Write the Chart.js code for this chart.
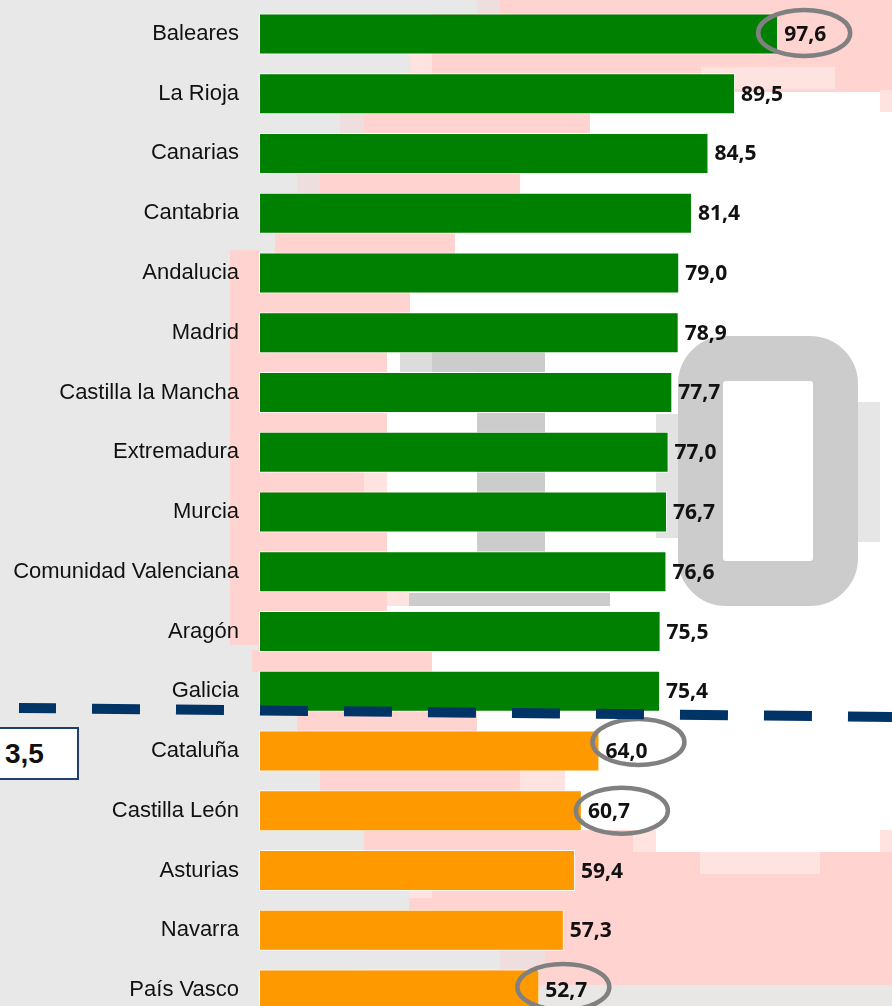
<!DOCTYPE html>
<html>
<head>
<meta charset="utf-8">
<script src="https://cdn.jsdelivr.net/npm/chart.js@4.4.1/dist/chart.umd.min.js"></script>
<style>
  html, body { margin: 0; padding: 0; background: #e8e8e8; overflow: hidden; }
  #wrap { position: relative; width: 892px; height: 1006px; overflow: hidden; background: #e8e8e8; }
  .bg { position: absolute; }
  .pk { background: #ffd3d0; }
  .lp { background: #ffe3e0; }
  .wh { background: #ffffff; }
  .gr { background: #cccccc; }
  .lg { background: #dcdcdc; }
  .bs { background: #e8e8e8; }
  .lgp { background: #eedfde; }
  #zero { position: absolute; left: 678px; top: 336px; width: 180px; height: 270px; box-sizing: border-box;
          border: 45px solid #cccccc; border-radius: 48px; background: #ffffff; }
  #box { position: absolute; left: -2px; top: 727px; width: 81px; height: 53px; box-sizing: border-box;
         background: #ffffff; border: 2px solid #1f3f6e; font: bold 28px "Liberation Sans", Arial, sans-serif;
         color: #111; line-height: 49px; padding-left: 5px; }
  canvas { position: absolute; left: 0; top: 0; }
</style>
</head>
<body>
<div id="wrap">
  <!-- decorative backdrop -->
  <div class="bg lgp" style="left:477px;top:0;width:23px;height:14px"></div>
  <div class="bg pk" style="left:500px;top:0;width:392px;height:14px"></div>
  <div class="bg pk" style="left:432px;top:14px;width:460px;height:78px"></div>
  <div class="bg lp" style="left:410px;top:54px;width:22px;height:20px"></div>
  <div class="bg lp" style="left:701px;top:67px;width:134px;height:22px"></div>
  <div class="bg wh" style="left:259px;top:92px;width:633px;height:745px"></div>
  <div class="bg lp" style="left:880px;top:90px;width:12px;height:22px"></div>
  <div class="bg bs" style="left:259px;top:112px;width:81px;height:22px"></div>
  <div class="bg lgp" style="left:340px;top:112px;width:24px;height:22px"></div>
  <div class="bg pk" style="left:364px;top:112px;width:226px;height:22px"></div>
  <div class="bg bs" style="left:259px;top:172px;width:38px;height:22px"></div>
  <div class="bg lgp" style="left:297px;top:172px;width:23px;height:22px"></div>
  <div class="bg pk" style="left:320px;top:172px;width:200px;height:22px"></div>
  <div class="bg bs" style="left:259px;top:232px;width:16px;height:22px"></div>
  <div class="bg pk" style="left:275px;top:232px;width:180px;height:22px"></div>
  <div class="bg pk" style="left:230px;top:250px;width:29px;height:395px"></div>
  <div class="bg pk" style="left:252px;top:292px;width:158px;height:22px"></div>
  <div class="bg pk" style="left:259px;top:352px;width:128px;height:22px"></div>
  <div class="bg lg" style="left:400px;top:352px;width:32px;height:20px"></div>
  <div class="bg gr" style="left:432px;top:352px;width:113px;height:20px"></div>
  <div class="bg pk" style="left:259px;top:412px;width:128px;height:22px"></div>
  <div class="bg gr" style="left:477px;top:372px;width:68px;height:180px"></div>
  <div class="bg pk" style="left:259px;top:472px;width:105px;height:22px"></div>
  <div class="bg lp" style="left:364px;top:472px;width:23px;height:22px"></div>
  <div class="bg pk" style="left:259px;top:532px;width:128px;height:22px"></div>
  <div class="bg pk" style="left:259px;top:592px;width:128px;height:22px"></div>
  <div class="bg lp" style="left:387px;top:592px;width:22px;height:14px"></div>
  <div class="bg gr" style="left:409px;top:593px;width:201px;height:13px"></div>
  <div class="bg" style="left:656px;top:414px;width:22px;height:124px;background:#e2e2e2"></div>
  <div class="bg" style="left:858px;top:402px;width:22px;height:140px;background:#e6e6e6"></div>
  <div id="zero"></div>
  <div class="bg pk" style="left:252px;top:650px;width:180px;height:22px"></div>
  <div class="bg bs" style="left:259px;top:710px;width:38px;height:22px"></div>
  <div class="bg pk" style="left:297px;top:710px;width:180px;height:22px"></div>
  <div class="bg bs" style="left:259px;top:770px;width:61px;height:22px"></div>
  <div class="bg pk" style="left:320px;top:770px;width:200px;height:22px"></div>
  <div class="bg lp" style="left:520px;top:770px;width:45px;height:22px"></div>
  <div class="bg pk" style="left:364px;top:830px;width:528px;height:160px"></div>
  <div class="bg bs" style="left:259px;top:830px;width:105px;height:22px"></div>
  <div class="bg lp" style="left:633px;top:830px;width:23px;height:22px"></div>
  <div class="bg wh" style="left:656px;top:830px;width:224px;height:22px"></div>
  <div class="bg lp" style="left:880px;top:830px;width:12px;height:22px"></div>
  <div class="bg lp" style="left:700px;top:852px;width:120px;height:22px"></div>
  <div class="bg bs" style="left:259px;top:890px;width:150px;height:22px"></div>
  <div class="bg lp" style="left:409px;top:890px;width:23px;height:8px"></div>
  <div class="bg bs" style="left:259px;top:950px;width:241px;height:20px"></div>
  <div class="bg lgp" style="left:500px;top:950px;width:45px;height:20px"></div>
  <div class="bg" style="left:540px;top:985px;width:352px;height:21px;background:#e9e6e6"></div>
  <div id="box">3,5</div>
  <canvas id="c" width="892" height="1024"></canvas>
</div>
<script>
// ---- data ----
const regiones = ['Baleares', 'La Rioja', 'Canarias', 'Cantabria', 'Andalucia', 'Madrid',
  'Castilla la Mancha', 'Extremadura', 'Murcia', 'Comunidad Valenciana', 'Aragón', 'Galicia',
  'Cataluña', 'Castilla León', 'Asturias', 'Navarra', 'País Vasco'];
const valores = [97.6, 89.5, 84.5, 81.4, 79.0, 78.9, 77.7, 77.0, 76.7, 76.6, 75.5, 75.4,
  64.0, 60.7, 59.4, 57.3, 52.7];
const grupo = ['alto', 'alto', 'alto', 'alto', 'alto', 'alto', 'alto', 'alto', 'alto', 'alto', 'alto', 'alto',
  'bajo', 'bajo', 'bajo', 'bajo', 'bajo'];
const destacados = ['Baleares', 'Cataluña', 'Castilla León', 'País Vasco'];

// ---- styles ----
const colores = { alto: '#008000', bajo: '#ff9900' };
const ejeMax = 119;
const elipse = { // offsets of highlight ellipse relative to bar end / centre
  'Baleares': [26, -1], 'Cataluña': [39, -9], 'Castilla León': [40, 0], 'País Vasco': [24, -3]
};
const fmt = v => v.toFixed(1).replace('.', ',');

const overlay = {
  id: 'overlay',
  afterDatasetsDraw(chart) {
    const ctx = chart.ctx;
    const meta = chart.getDatasetMeta(0);
    const ys = chart.scales.y;
    // value labels
    ctx.save();
    ctx.font = 'bold 21px "Open Sans", "Liberation Sans", sans-serif';
    ctx.fillStyle = '#111111';
    ctx.textBaseline = 'middle';
    ctx.textAlign = 'left';
    meta.data.forEach((bar, i) => {
      ctx.fillText(fmt(valores[i]), bar.x + 6, bar.y + 1);
    });
    ctx.restore();
    // highlight ellipses
    ctx.save();
    ctx.strokeStyle = '#808080';
    ctx.lineWidth = 4.5;
    destacados.forEach(name => {
      const i = regiones.indexOf(name);
      const bar = meta.data[i];
      const off = elipse[name];
      ctx.beginPath();
      ctx.ellipse(bar.x + off[0], bar.y + off[1], 46, 23, 0, 0, Math.PI * 2);
      ctx.stroke();
    });
    ctx.restore();
    // dashed separator between groups
    const split = grupo.indexOf('bajo');
    const yb = (ys.getPixelForValue(split - 1) + ys.getPixelForValue(split)) / 2;
    ctx.save();
    ctx.strokeStyle = '#003366';
    ctx.lineWidth = 10;
    ctx.setLineDash([48, 36]);
    ctx.lineDashOffset = 11;
    ctx.beginPath();
    ctx.moveTo(19, yb - 13.2);
    ctx.lineTo(892, yb - 4.3);
    ctx.stroke();
    ctx.restore();
  }
};

new Chart(document.getElementById('c'), {
  type: 'bar',
  data: {
    labels: regiones,
    datasets: [{
      data: valores,
      backgroundColor: grupo.map(g => colores[g]),
      borderColor: 'rgba(255,255,255,0.85)',
      borderWidth: 1,
      borderSkipped: false,
      categoryPercentage: 1,
      barPercentage: 0.686
    }]
  },
  options: {
    indexAxis: 'y',
    responsive: false,
    animation: false,
    layout: { padding: { top: 4, bottom: 4, left: 0, right: 0 } },
    plugins: { legend: { display: false }, tooltip: { enabled: false } },
    scales: {
      x: { display: false, min: 0, max: ejeMax },
      y: {
        grid: { display: false, drawTicks: false },
        border: { display: false },
        ticks: { padding: 20, color: '#111111', font: { family: '"Liberation Sans", Arial, sans-serif', size: 22 } },
        afterFit(scale) { scale.width = 259; scale.paddingTop = 0; scale.paddingBottom = 0; }
      }
    }
  },
  plugins: [overlay]
});
</script>
</body>
</html>
